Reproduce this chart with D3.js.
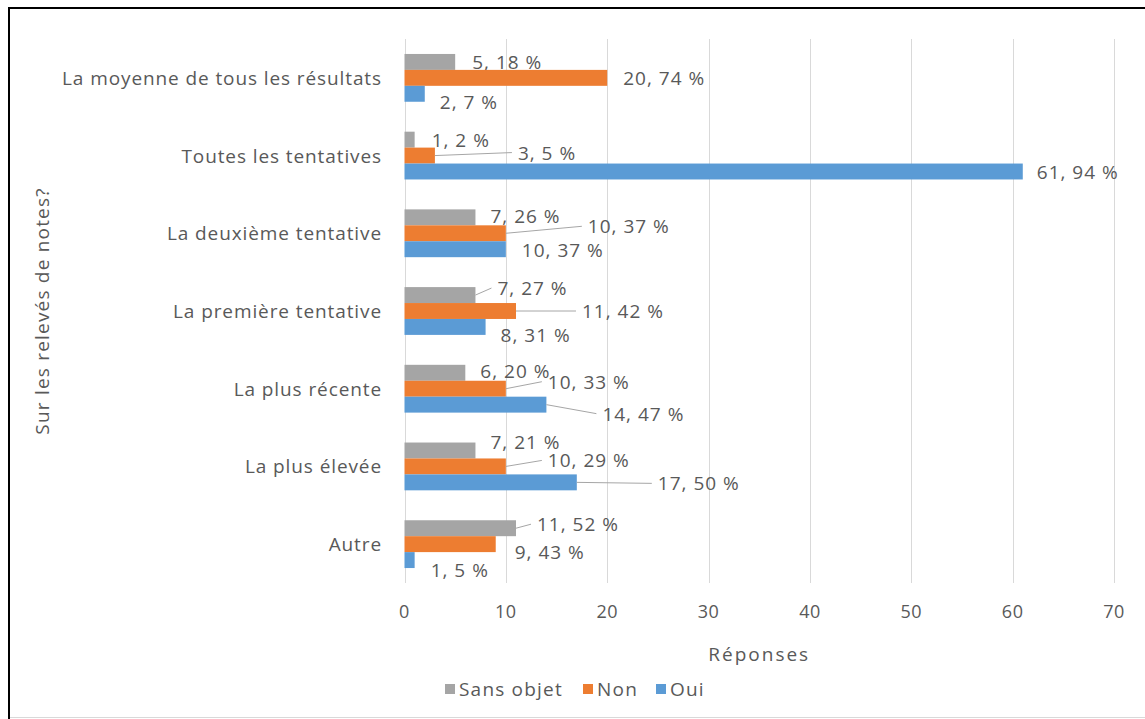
<!DOCTYPE html>
<html>
<head>
<meta charset="utf-8">
<script src="https://cdn.jsdelivr.net/npm/d3@7"></script>
<style>
  body { margin: 0; background: white; }
  text { font-family: "Open Sans", "Liberation Sans", Arial, sans-serif; fill: #595959; }
</style>
</head>
<body>
<div id="main_content"></div>
<script>
var width = 1145, height = 719;

// data
var categories = ['La moyenne de tous les résultats', 'Toutes les tentatives', 'La deuxième tentative',
  'La première tentative', 'La plus récente', 'La plus élevée', 'Autre'];
var series = ['Sans objet', 'Non', 'Oui'];
var sansObjet = [5, 1, 7, 7, 6, 7, 11];
var sansObjetPct = [18, 2, 26, 27, 20, 21, 52];
var non = [20, 3, 10, 11, 10, 10, 9];
var nonPct = [74, 5, 37, 42, 33, 29, 43];
var oui = [2, 61, 10, 8, 14, 17, 1];
var ouiPct = [7, 94, 37, 31, 47, 50, 5];
var xTicks = [0, 10, 20, 30, 40, 50, 60, 70];

var colors = ['#a5a5a5', '#ed7d31', '#5b9bd5'];

// label placement (dx from bar end, dy from bar centre, leader line)
var labelPos = [
  [[17, 0, 0], [17, 0, 0], [15, -1, 0], [22, -7, 1], [15, -2, 0], [15, -8, 0], [21, -4, 1]],
  [[16, 0, 0], [83, -3, 1], [82, -7, 1], [66, 0, 1], [42, -7, 1], [42, -6, 1], [19, 8, 0]],
  [[15, 8, 0], [14, 0, 0], [16, 1, 0], [15, 8, 0], [56, 9, 1], [81, 1, 1], [16, 10, 0]]
];

var values = [sansObjet, non, oui];
var pcts = [sansObjetPct, nonPct, ouiPct];

var svg = d3.select('#main_content').append('svg')
  .attr('width', width)
  .attr('height', height)
  .style('display', 'block')
  .style('background', 'white');

// frame
svg.append('line').attr('x1', 8).attr('x2', width).attr('y1', 8).attr('y2', 8)
  .attr('stroke', '#000').attr('stroke-width', 2);
svg.append('line').attr('x1', 9).attr('x2', 9).attr('y1', 7).attr('y2', 719)
  .attr('stroke', '#000').attr('stroke-width', 2);
svg.append('line').attr('x1', 10).attr('x2', width).attr('y1', 717.5).attr('y2', 717.5)
  .attr('stroke', '#d9d9d9').attr('stroke-width', 1);

var margin = {left: 404.5, right: 1114, top: 39, bottom: 583};

var x = d3.scaleLinear().domain([0, 70]).range([margin.left, margin.right]);
var y = d3.scaleBand().domain(categories).range([margin.top, margin.bottom]).paddingInner(0.385).paddingOuter(0.1925);
var y1 = d3.scaleBand().domain(series).range([0, y.bandwidth()]);

// gridlines
svg.append('g').selectAll('line')
  .data(xTicks)
  .enter().append('line')
  .attr('x1', function(d) { return Math.round(x(d)) + 0.5; })
  .attr('x2', function(d) { return Math.round(x(d)) + 0.5; })
  .attr('y1', margin.top)
  .attr('y2', margin.bottom)
  .attr('stroke', '#d9d9d9')
  .attr('stroke-width', 1);

// tick labels
svg.append('g').selectAll('text')
  .data(xTicks)
  .enter().append('text')
  .attr('x', function(d) { return x(d); })
  .attr('y', 611)
  .attr('text-anchor', 'middle')
  .attr('dominant-baseline', 'central')
  .style('font-size', '18px')
  .style('letter-spacing', '0.5px')
  .text(function(d) { return d; });

// category labels
svg.append('g').selectAll('text')
  .data(categories)
  .enter().append('text')
  .attr('x', 382)
  .attr('y', function(d) { return y(d) + y.bandwidth() / 2; })
  .attr('text-anchor', 'end')
  .attr('dominant-baseline', 'central')
  .style('font-size', '19px')
  .style('letter-spacing', '0.9px')
  .text(function(d) { return d; });

// bars
series.forEach(function(s, si) {
  var rows = categories.map(function(c, ci) {
    return {cat: c, v: values[si][ci], p: pcts[si][ci], pos: labelPos[si][ci]};
  });
  var g = svg.append('g');
  g.selectAll('rect')
    .data(rows)
    .enter().append('rect')
    .attr('x', x(0))
    .attr('y', function(d) { return y(d.cat) + y1(s); })
    .attr('width', function(d) { return x(d.v) - x(0); })
    .attr('height', y1.bandwidth())
    .attr('fill', colors[si]);

  // leader lines
  g.selectAll('line')
    .data(rows.filter(function(d) { return d.pos[2]; }))
    .enter().append('line')
    .attr('x1', function(d) { return x(d.v); })
    .attr('y1', function(d) { return y(d.cat) + y1(s) + y1.bandwidth() / 2; })
    .attr('x2', function(d) { return x(d.v) + d.pos[0] - 6; })
    .attr('y2', function(d) { return y(d.cat) + y1(s) + y1.bandwidth() / 2 + d.pos[1]; })
    .attr('stroke', '#a6a6a6')
    .attr('stroke-width', 1);

  g.selectAll('text')
    .data(rows)
    .enter().append('text')
    .attr('x', function(d) { return x(d.v) + d.pos[0]; })
    .attr('y', function(d) { return y(d.cat) + y1(s) + y1.bandwidth() / 2 + d.pos[1]; })
    .attr('dominant-baseline', 'central')
    .style('font-size', '19px')
    .style('letter-spacing', '1px')
    .text(function(d) { return d.v + ', ' + d.p + ' %'; });
});

// axis titles
svg.append('text')
  .attr('x', x(35))
  .attr('y', 654)
  .attr('text-anchor', 'middle')
  .attr('dominant-baseline', 'central')
  .style('font-size', '19px')
  .style('letter-spacing', '2px')
  .text('Réponses');

svg.append('text')
  .attr('transform', 'translate(42,' + ((margin.top + margin.bottom) / 2) + ') rotate(-90)')
  .attr('text-anchor', 'middle')
  .attr('dominant-baseline', 'central')
  .style('font-size', '19px')
  .style('letter-spacing', '1.2px')
  .text('Sur les relevés de notes?');

// legend
var legendX = [445, 583, 656];
var legend = svg.append('g').selectAll('g')
  .data(series)
  .enter().append('g')
  .attr('transform', function(d, i) { return 'translate(' + legendX[i] + ',689)'; });
legend.append('rect')
  .attr('x', 0).attr('y', -5)
  .attr('width', 10).attr('height', 10)
  .attr('fill', function(d, i) { return colors[i]; });
legend.append('text')
  .attr('x', 14)
  .attr('y', 0)
  .attr('dominant-baseline', 'central')
  .style('font-size', '19px')
  .style('letter-spacing', '1.2px')
  .text(function(d) { return d; });
</script>
</body>
</html>
